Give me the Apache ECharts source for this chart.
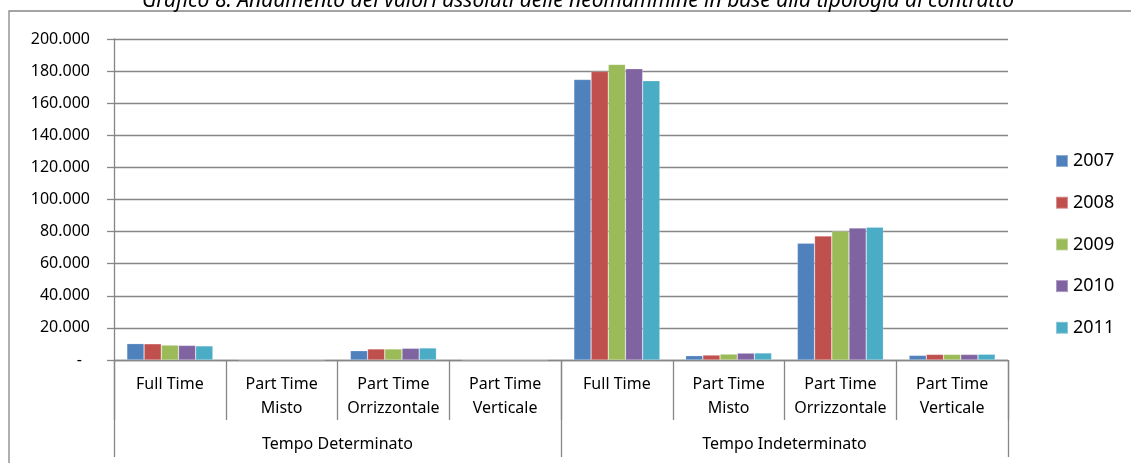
<!DOCTYPE html>
<html>
<head>
<meta charset="utf-8">
<script src="https://cdn.jsdelivr.net/npm/echarts@6/dist/echarts.min.js"></script>
<style>
html,body{margin:0;padding:0;background:#fff;}
#c{width:1131px;height:463px;}
</style>
</head>
<body>
<div id="c"></div>
<script>
const titleText = 'Grafico 8: Andamento dei valori assoluti delle neomammine in base alla tipologia di contratto';
const categories = ['Full Time','Part Time\nMisto','Part Time\nOrrizzontale','Part Time\nVerticale','Full Time','Part Time\nMisto','Part Time\nOrrizzontale','Part Time\nVerticale'];
const groups = ['Tempo Determinato','Tempo Indeterminato'];
const years = ['2007','2008','2009','2010','2011'];
const v2007 = [10200, 0, 5800, 0, 174800, 2700, 72700, 2900];
const v2008 = [10100, 0, 6900, 0, 179800, 3100, 77300, 3500];
const v2009 = [9300, 0, 6900, 0, 184200, 3700, 80200, 3500];
const v2010 = [9100, 0, 7300, 0, 181500, 4300, 82200, 3500];
const v2011 = [8800, 0, 7500, 0, 174000, 4400, 82700, 3600];
const yTickLabels = ['-','20.000','40.000','60.000','80.000','100.000','120.000','140.000','160.000','180.000','200.000'];

const values = [v2007, v2008, v2009, v2010, v2011];
const colors = ['#4F81BD','#C0504D','#9BBB59','#8064A2','#4BACC6'];
const font = 'Noto Sans';
const axisGray = '#868686';

const chart = echarts.init(document.getElementById('c'));
chart.setOption({
  animation: false,
  textStyle: {fontFamily: font},
  title: {
    text: titleText,
    left: 573,
    textAlign: 'center',
    top: -14,
    textStyle: {fontFamily: font, fontStyle: 'italic', fontWeight: 'normal', fontSize: 21, color: '#000'}
  },
  graphic: [{
    type: 'rect',
    shape: {x: 9, y: 11, width: 1300, height: 600},
    style: {fill: 'none', stroke: axisGray, lineWidth: 1.3},
    silent: true,
    z: -10
  }],
  legend: {
    orient: 'vertical',
    left: 1050,
    top: 146,
    itemWidth: 12,
    itemHeight: 12,
    itemGap: 21.7,
    icon: 'rect',
    data: years,
    textStyle: {fontFamily: font, fontSize: 18, color: '#000', lineHeight: 20}
  },
  grid: {left: 114, right: 123, top: 39, bottom: 103, containLabel: false},
  xAxis: [{
    type: 'category',
    data: categories,
    position: 'bottom',
    axisLine: {show: true, lineStyle: {color: axisGray, width: 1.3}},
    axisTick: {show: true, interval: 0, length: 60, lineStyle: {color: axisGray, width: 1.3}},
    axisLabel: {interval: 0, margin: 12, fontFamily: font, fontSize: 16, lineHeight: 24, color: '#000', align: 'center'},
    splitLine: {show: false}
  }, {
    type: 'category',
    data: groups,
    position: 'bottom',
    axisLine: {show: false},
    axisTick: {show: true, interval: 0, length: 97, lineStyle: {color: axisGray, width: 1.3}},
    axisLabel: {interval: 0, margin: 76, fontFamily: font, fontSize: 16, color: '#000'},
    splitLine: {show: false}
  }],
  yAxis: {
    type: 'value',
    min: 0,
    max: 200000,
    interval: 20000,
    axisLine: {show: true, lineStyle: {color: axisGray, width: 1.3}},
    axisTick: {show: true, length: 7, lineStyle: {color: axisGray, width: 1.3}},
    splitLine: {show: true, lineStyle: {color: axisGray, width: 1.3}},
    axisLabel: {
      margin: 24,
      fontFamily: font,
      fontSize: 16,
      color: '#000',
      formatter: function (v) {
        const i = Math.round(v / 20000);
        return i === 0 ? '{d|' + yTickLabels[0] + '}' : yTickLabels[i];
      },
      rich: {d: {fontFamily: font, fontSize: 16, color: '#000', padding: [0, 8, 0, 0]}}
    }
  },
  series: years.map((y, i) => ({
    name: y,
    type: 'bar',
    xAxisIndex: 0,
    data: values[i],
    barGap: '0%',
    barCategoryGap: '23%',
    itemStyle: {color: colors[i], borderColor: 'rgba(255,255,255,0.35)', borderWidth: 0.6}
  }))
});
</script>
</body>
</html>
